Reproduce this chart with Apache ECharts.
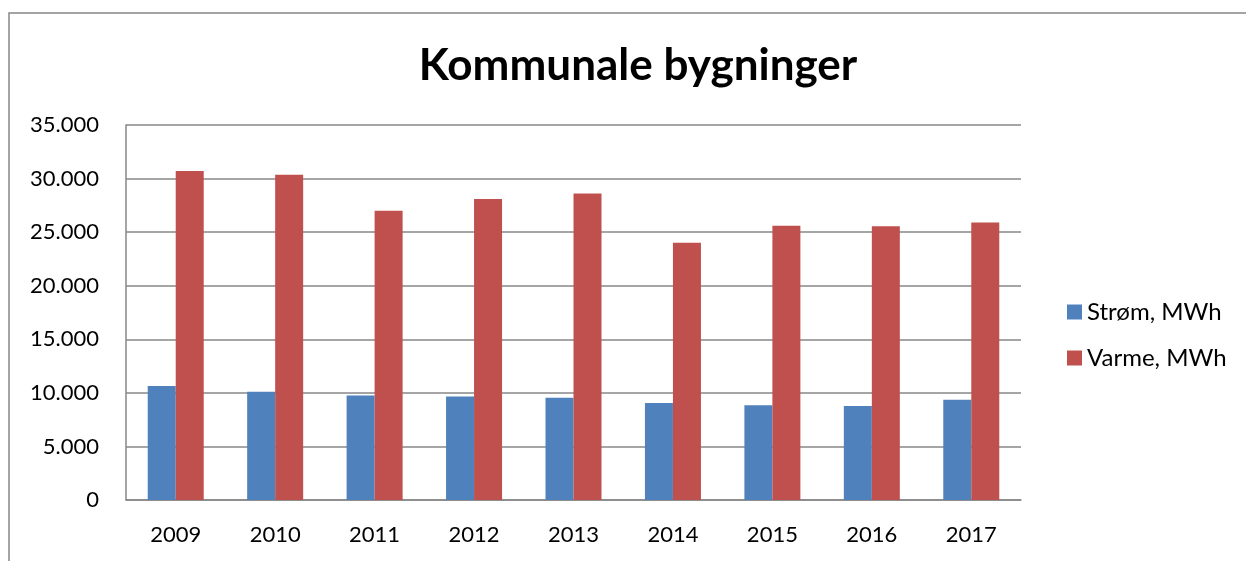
<!DOCTYPE html>
<html>
<head>
<meta charset="utf-8">
<script src="https://cdn.jsdelivr.net/npm/echarts@6/dist/echarts.min.js"></script>
<style>
  html, body { margin: 0; padding: 0; background: #fff; }
  #main { width: 1246px; height: 561px; }
</style>
</head>
<body>
<div id="main"></div>
<script>
var years = ["2009", "2010", "2011", "2012", "2013", "2014", "2015", "2016", "2017"];
var strom = [10650, 10100, 9750, 9650, 9550, 9050, 8850, 8780, 9350];
var varme = [30700, 30350, 27000, 28100, 28600, 24000, 25600, 25550, 25900];

var chart = echarts.init(document.getElementById("main"));
var fmt = function (v) {
  return String(v).replace(/\B(?=(\d{3})+(?!\d))/g, ".");
};
chart.setOption({
  backgroundColor: "#fff",
  animation: false,
  title: {
    text: "Kommunale bygninger",
    left: 633,
    textAlign: "center",
    top: 39,
    textStyle: { fontFamily: "Lato", fontWeight: "bold", fontSize: 44, color: "#000" }
  },
  graphic: [{
    type: "rect",
    shape: { x: 9, y: 13, width: 1400, height: 700 },
    style: { fill: "none", stroke: "#878787", lineWidth: 1.5 },
    silent: true
  }],
  legend: {
    orient: "vertical",
    left: 1062,
    top: 295,
    itemWidth: 15,
    itemHeight: 15,
    itemGap: 22,
    icon: "rect",
    textStyle: { fontFamily: "Lato", fontSize: 24, color: "#000" },
    data: ["Strøm, MWh", "Varme, MWh"]
  },
  grid: { left: 126, right: 225, top: 125, bottom: 61, containLabel: false },
  xAxis: {
    type: "category",
    data: years,
    axisLine: { lineStyle: { color: "#878787", width: 1.5 } },
    axisTick: { show: false },
    axisLabel: { fontFamily: "Lato", fontSize: 22, color: "#000", margin: 24 }
  },
  yAxis: {
    type: "value",
    min: 0,
    max: 35000,
    interval: 5000,
    axisLine: { show: true, lineStyle: { color: "#878787", width: 1.5 } },
    axisTick: { show: false },
    splitLine: { lineStyle: { color: "#878787", width: 1.5 } },
    axisLabel: { fontFamily: "Lato", fontSize: 22, color: "#000", margin: 27, formatter: fmt }
  },
  series: [
    {
      name: "Strøm, MWh",
      type: "bar",
      data: strom,
      barWidth: 28,
      barGap: "0%",
      itemStyle: { color: "#4f81bd" }
    },
    {
      name: "Varme, MWh",
      type: "bar",
      data: varme,
      barWidth: 28,
      itemStyle: { color: "#c0504d" }
    }
  ]
});
</script>
</body>
</html>
